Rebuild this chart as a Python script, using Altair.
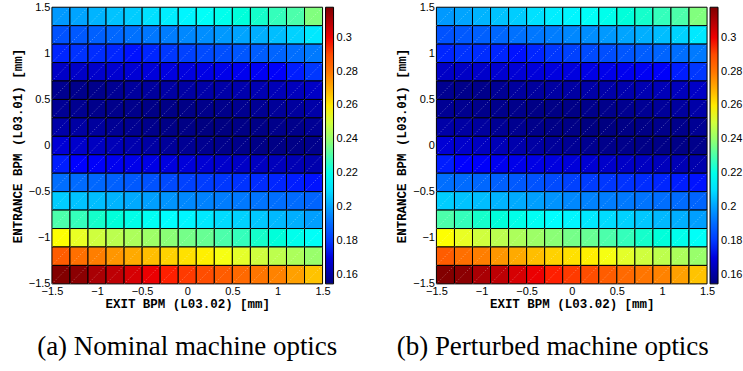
import altair as alt
import pandas as pd

# Cell centres (mm)
X_CENTERS = [-1.4, -1.2, -1.0, -0.8, -0.6, -0.4, -0.2, 0.0, 0.2, 0.4, 0.6, 0.8, 1.0, 1.2, 1.4]
Y_CENTERS = [1.4, 1.2, 1.0, 0.8, 0.6, 0.4, 0.2, 0.0, -0.2, -0.4, -0.6, -0.8, -1.0, -1.2, -1.4]

# Rows from top (y=1.4) to bottom (y=-1.4), columns from x=-1.4 to x=1.4
NOMINAL = [
    [0.1991, 0.2007, 0.2031, 0.2055, 0.2071, 0.2104, 0.2127, 0.2143, 0.2175, 0.2199, 0.2231, 0.2255, 0.2279, 0.2303, 0.2367],
    [0.1847, 0.1863, 0.1879, 0.1895, 0.1919, 0.1935, 0.1951, 0.1967, 0.1975, 0.1991, 0.2007, 0.2023, 0.2047, 0.2079, 0.2119],
    [0.1775, 0.1791, 0.1783, 0.1775, 0.1759, 0.1775, 0.1799, 0.1815, 0.1831, 0.1839, 0.1855, 0.1871, 0.1887, 0.1911, 0.1943],
    [0.1663, 0.1663, 0.1671, 0.1679, 0.1687, 0.1695, 0.1703, 0.1703, 0.1711, 0.1719, 0.1727, 0.1735, 0.1743, 0.1767, 0.1799],
    [0.1575, 0.1567, 0.1567, 0.1583, 0.1599, 0.1599, 0.1607, 0.1607, 0.1615, 0.1615, 0.1623, 0.1631, 0.1639, 0.1647, 0.1663],
    [0.1583, 0.1575, 0.1567, 0.1567, 0.1567, 0.1559, 0.1559, 0.1559, 0.1567, 0.1567, 0.1575, 0.1583, 0.1591, 0.1599, 0.1615],
    [0.1615, 0.1607, 0.1599, 0.1583, 0.1575, 0.1567, 0.1559, 0.1559, 0.1551, 0.1551, 0.1559, 0.1559, 0.1567, 0.1567, 0.1583],
    [0.1687, 0.1671, 0.1655, 0.1639, 0.1623, 0.1607, 0.1591, 0.1583, 0.1575, 0.1567, 0.1567, 0.1559, 0.1559, 0.1559, 0.1567],
    [0.1767, 0.1751, 0.1743, 0.1727, 0.1719, 0.1711, 0.1703, 0.1695, 0.1683, 0.1671, 0.1663, 0.1655, 0.1647, 0.1635, 0.1623],
    [0.1911, 0.1903, 0.1895, 0.1879, 0.1863, 0.1847, 0.1831, 0.1815, 0.1807, 0.1799, 0.1791, 0.1783, 0.1775, 0.1767, 0.1759],
    [0.2071, 0.2055, 0.2047, 0.2031, 0.2015, 0.1999, 0.1983, 0.1967, 0.1959, 0.1951, 0.1940, 0.1927, 0.1911, 0.1903, 0.1887],
    [0.2303, 0.2279, 0.2255, 0.2231, 0.2207, 0.2183, 0.2159, 0.2143, 0.2119, 0.2095, 0.2079, 0.2063, 0.2039, 0.2023, 0.1999],
    [0.2567, 0.2535, 0.2495, 0.2463, 0.2439, 0.2415, 0.2383, 0.2351, 0.2335, 0.2303, 0.2279, 0.2255, 0.2231, 0.2199, 0.2175],
    [0.2864, 0.2816, 0.2776, 0.2736, 0.2704, 0.2672, 0.2640, 0.2616, 0.2592, 0.2555, 0.2527, 0.2495, 0.2467, 0.2439, 0.2407],
    [0.3175, 0.3159, 0.3111, 0.3079, 0.3039, 0.3007, 0.2960, 0.2928, 0.2896, 0.2864, 0.2832, 0.2800, 0.2768, 0.2720, 0.2664],
]

PERTURBED = [
    [0.1991, 0.2007, 0.2031, 0.2055, 0.2071, 0.2104, 0.2127, 0.2143, 0.2175, 0.2199, 0.2231, 0.2255, 0.2279, 0.2303, 0.2367],
    [0.1847, 0.1863, 0.1879, 0.1895, 0.1919, 0.1935, 0.1951, 0.1967, 0.1975, 0.1991, 0.2007, 0.2023, 0.2047, 0.2079, 0.2119],
    [0.1775, 0.1791, 0.1783, 0.1775, 0.1759, 0.1775, 0.1799, 0.1815, 0.1831, 0.1839, 0.1855, 0.1871, 0.1887, 0.1911, 0.1943],
    [0.1663, 0.1663, 0.1671, 0.1679, 0.1687, 0.1695, 0.1703, 0.1703, 0.1711, 0.1719, 0.1727, 0.1735, 0.1743, 0.1767, 0.1799],
    [0.1575, 0.1567, 0.1567, 0.1583, 0.1599, 0.1599, 0.1607, 0.1607, 0.1615, 0.1615, 0.1623, 0.1631, 0.1639, 0.1647, 0.1663],
    [0.1583, 0.1575, 0.1567, 0.1567, 0.1567, 0.1559, 0.1559, 0.1559, 0.1567, 0.1567, 0.1575, 0.1583, 0.1591, 0.1599, 0.1615],
    [0.1615, 0.1607, 0.1599, 0.1583, 0.1575, 0.1567, 0.1559, 0.1559, 0.1551, 0.1551, 0.1559, 0.1559, 0.1567, 0.1567, 0.1583],
    [0.1687, 0.1671, 0.1655, 0.1639, 0.1623, 0.1607, 0.1591, 0.1583, 0.1575, 0.1567, 0.1567, 0.1559, 0.1559, 0.1559, 0.1567],
    [0.1767, 0.1751, 0.1743, 0.1727, 0.1719, 0.1711, 0.1703, 0.1695, 0.1683, 0.1671, 0.1663, 0.1655, 0.1647, 0.1635, 0.1623],
    [0.1911, 0.1903, 0.1895, 0.1879, 0.1863, 0.1847, 0.1831, 0.1815, 0.1807, 0.1799, 0.1791, 0.1783, 0.1775, 0.1767, 0.1759],
    [0.2071, 0.2055, 0.2047, 0.2031, 0.2015, 0.1999, 0.1983, 0.1967, 0.1959, 0.1951, 0.1940, 0.1927, 0.1911, 0.1903, 0.1887],
    [0.2303, 0.2279, 0.2255, 0.2231, 0.2207, 0.2183, 0.2159, 0.2143, 0.2119, 0.2095, 0.2079, 0.2063, 0.2039, 0.2023, 0.1999],
    [0.2567, 0.2535, 0.2495, 0.2463, 0.2439, 0.2415, 0.2383, 0.2351, 0.2335, 0.2303, 0.2279, 0.2255, 0.2231, 0.2199, 0.2175],
    [0.2864, 0.2816, 0.2776, 0.2736, 0.2704, 0.2672, 0.2640, 0.2616, 0.2592, 0.2555, 0.2527, 0.2495, 0.2467, 0.2439, 0.2407],
    [0.3175, 0.3159, 0.3111, 0.3079, 0.3039, 0.3007, 0.2960, 0.2928, 0.2896, 0.2864, 0.2832, 0.2800, 0.2768, 0.2720, 0.2664],
]

AXIS_TICKS = [-1.5, -1, -0.5, 0, 0.5, 1, 1.5]
CBAR_TICKS = [0.16, 0.18, 0.2, 0.22, 0.24, 0.26, 0.28, 0.3]
# jet colormap knots spread across the colour-bar range
JET_STOPS = [0.1547, 0.1751, 0.1955, 0.2159, 0.2364, 0.2568, 0.2772, 0.2976, 0.3180]
JET_COLORS = ["#00007F", "#0000FF", "#007FFF", "#00FFFF", "#7FFF7F",
              "#FFFF00", "#FF7F00", "#FF0000", "#7F0000"]

X_TITLE = "EXIT BPM (L03.02) [mm]"
Y_TITLE = "ENTRANCE BPM (L03.01) [mm]"
CAPTIONS = ["(a) Nominal machine optics", "(b) Perturbed machine optics"]


def frame(grid):
    recs = []
    for yc, row in zip(Y_CENTERS, grid):
        for xc, v in zip(X_CENTERS, row):
            recs.append({"x": xc, "y": yc, "v": v})
    return pd.DataFrame(recs)


def panel(grid, caption, dx):
    base = alt.Chart(frame(grid)).transform_calculate(
        x0="datum.x - 0.1", x1="datum.x + 0.1",
        y0="datum.y - 0.1", y1="datum.y + 0.1",
    )
    xs = alt.Scale(domain=[-1.5, 1.5], nice=False, zero=False)
    ys = alt.Scale(domain=[-1.5, 1.5], nice=False, zero=False)
    rect = base.mark_rect(stroke="black", strokeWidth=1).encode(
        x=alt.X("x0:Q", scale=xs,
                axis=alt.Axis(values=AXIS_TICKS, format="~g", title=X_TITLE, labelOverlap=False,
                              labelFlush=False, labelPadding=2, titlePadding=1)),
        x2="x1:Q",
        y=alt.Y("y0:Q", scale=ys,
                axis=alt.Axis(values=AXIS_TICKS, format="~g", title=Y_TITLE, labelOverlap=False,
                              labelFlush=False, labelPadding=2, titlePadding=4)),
        y2="y1:Q",
        color=alt.Color("v:Q",
                        scale=alt.Scale(domain=JET_STOPS, range=JET_COLORS),
                        legend=alt.Legend(title=None, values=CBAR_TICKS, format=".2~f",
                                          gradientLength=277, gradientThickness=8,
                                          gradientStrokeColor="black", gradientStrokeWidth=1,
                                          labelFont="Liberation Sans", labelFontSize=11,
                                          labelColor="black", labelOffset=3, offset=3,
                                          padding=0, labelOverlap=False)),
    )
    diag = base.mark_rule(color="white", strokeDash=[1, 2], strokeWidth=0.7, opacity=0.55).encode(
        x="x0:Q", x2="x1:Q", y="y0:Q", y2="y1:Q"
    )
    return alt.layer(rect, diag).properties(
        width=271, height=277,
        title=alt.TitleParams(caption, orient="bottom", anchor="middle", font="Liberation Serif",
                              fontSize=27, fontWeight="normal", color="black", offset=24, dx=dx),
    )


chart = alt.hconcat(
    panel(NOMINAL, CAPTIONS[0], 0),
    panel(PERTURBED, CAPTIONS[1], -19),
    spacing=37,
).resolve_scale(color="independent").properties(
    padding={"left": 11, "top": 1, "right": 0, "bottom": 0}
).configure_view(stroke=None).configure_axis(
    labelFont="Liberation Sans", labelFontSize=11, labelColor="black",
    titleFont="Liberation Mono", titleFontSize=12.5, titleFontWeight="bold", titleColor="black",
    ticks=False, domain=False, grid=False,
)

chart.save("out.html", embed_options={"renderer": "svg", "actions": False})
